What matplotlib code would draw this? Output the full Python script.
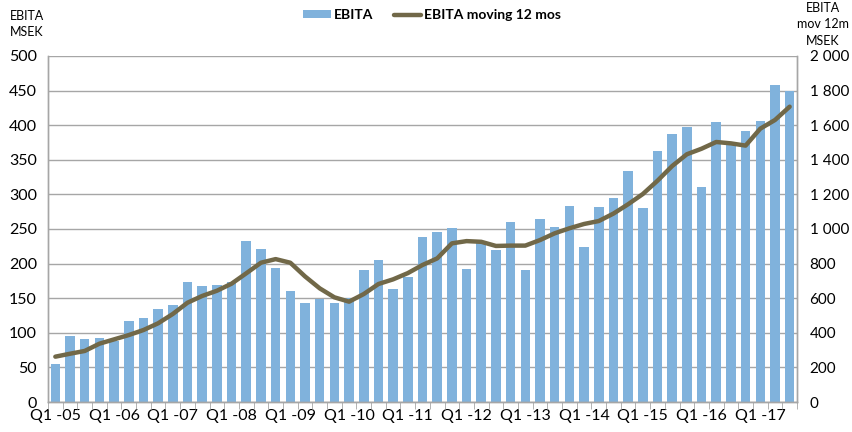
import matplotlib
matplotlib.use("Agg")
import matplotlib.pyplot as plt
import numpy as np
from matplotlib.ticker import FuncFormatter, MultipleLocator, FixedLocator
from matplotlib.patches import Patch
from matplotlib.lines import Line2D

plt.rcParams['font.family'] = ['Lato', 'DejaVu Sans']

years = list(range(5, 18))
tick_labels = [f"Q1 -{y:02d}" for y in years]

ebita = [55, 95, 91, 93, 88, 117, 122, 135, 140, 174, 167, 169, 174, 232, 221, 194,
         161, 143, 149, 143, 150, 191, 205, 163, 181, 238, 246, 251, 192, 233, 219, 260,
         191, 264, 253, 283, 224, 282, 295, 334, 280, 363, 387, 398, 311, 405, 373, 392,
         406, 458, 449]
ebita_12m = [262, 279, 295, 337, 362, 387, 416, 455, 509, 574, 613, 643, 684, 744, 805, 826,
             805, 726, 657, 605, 580, 624, 682, 709, 745, 792, 830, 917, 930, 926, 902, 904,
             904, 936, 975, 1004, 1029, 1046, 1089, 1143, 1202, 1279, 1364, 1432, 1464, 1503, 1495, 1482,
             1580, 1630, 1707]

bar_color = '#80B2DC'
line_color = '#716848'
grid_color = '#A6A6A6'

fig = plt.figure(figsize=(8.52, 4.32), dpi=100)
ax = fig.add_axes([48/852, 1-402/432, (797-48)/852, (402-56)/432])
x = np.arange(len(ebita))
ax.bar(x, ebita, width=0.65, color=bar_color, zorder=2)
ax.set_ylim(0, 500)
ax.set_xlim(-0.5, len(ebita) - 0.5)
ax.yaxis.set_major_locator(MultipleLocator(50))
ax.grid(axis='y', color=grid_color, linewidth=1, zorder=0)
ax.set_axisbelow(True)

ax2 = ax.twinx()
ax2.plot(x, ebita_12m, color=line_color, linewidth=3.2, solid_capstyle='round', zorder=3)
ax2.set_ylim(0, 2000)
ax2.yaxis.set_major_locator(MultipleLocator(200))
ax2.yaxis.set_major_formatter(FuncFormatter(lambda v, p: f"{int(v):,}".replace(",", " ")))

for a in (ax, ax2):
    a.spines['top'].set_visible(False)
    for s in ('left', 'right', 'bottom'):
        a.spines[s].set_color(grid_color)
        a.spines[s].set_linewidth(1)
    a.tick_params(axis='y', length=0, labelsize=11.5, colors='black')

ax.tick_params(axis='y', pad=8)
ax2.tick_params(axis='y', pad=9, labelsize=11)

ax.set_xticks(x[::4])
ax.set_xticklabels(tick_labels[:len(x[::4])], fontsize=11.5)
ax.tick_params(axis='x', length=0, pad=5)
ax.xaxis.set_minor_locator(FixedLocator(np.arange(-0.5, len(ebita), 1.0)))
ax.tick_params(axis='x', which='minor', length=5, color=grid_color, direction='out')

fig.text(10/852, 1-16/432, "EBITA", fontsize=9, va='center', ha='left')
fig.text(10/852, 1-32/432, "MSEK", fontsize=9, va='center', ha='left')
fig.text(823/852, 1-8/432, "EBITA", fontsize=9, va='center', ha='center')
fig.text(823/852, 1-24/432, "mov 12m", fontsize=9, va='center', ha='center')
fig.text(823/852, 1-41/432, "MSEK", fontsize=9, va='center', ha='center')

handles = [Patch(facecolor=bar_color, edgecolor='none'),
           Line2D([0], [0], color=line_color, linewidth=3.2, solid_capstyle='round')]
fig.legend(handles, ['EBITA', 'EBITA moving 12 mos'], loc='center',
           bbox_to_anchor=(432/852, 1-15/432), ncol=2, frameon=False,
           prop={'weight': 'bold', 'size': 10}, handlelength=2.0, handleheight=0.5,
           columnspacing=1.5, handletextpad=0.2)

fig.savefig('out.png', dpi=100)
